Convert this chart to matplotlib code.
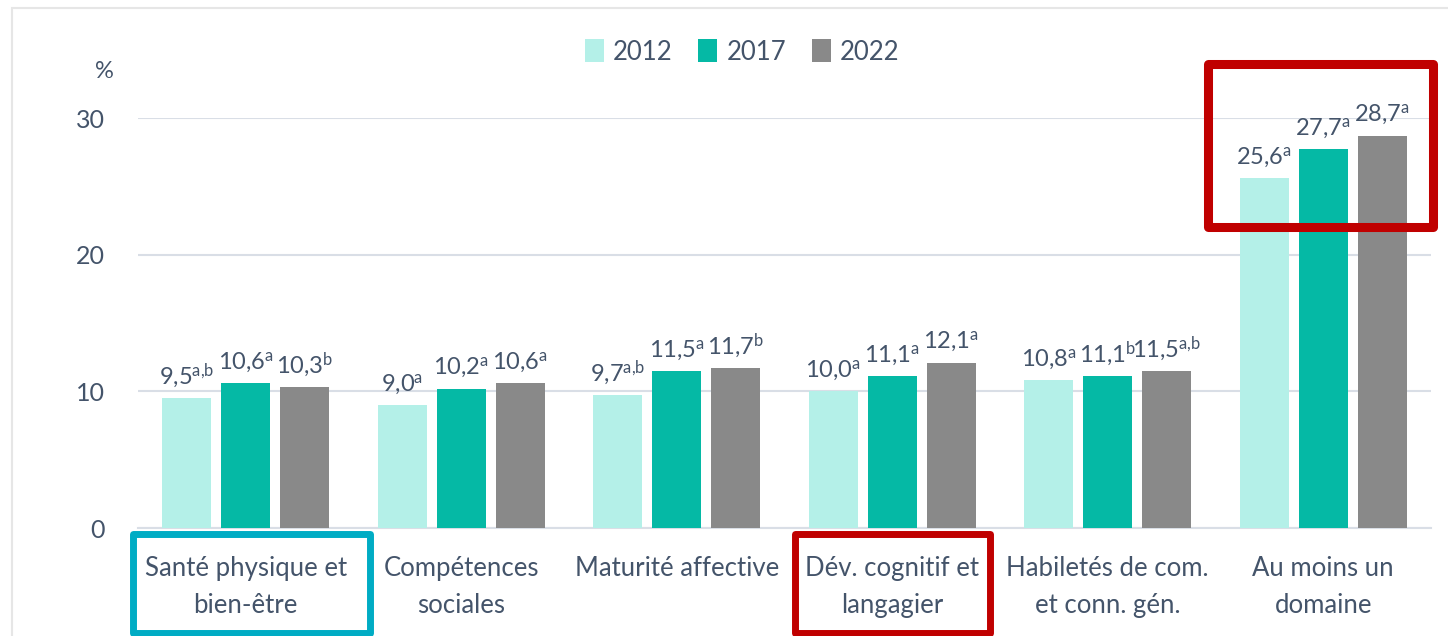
import matplotlib
matplotlib.use("Agg")
import matplotlib.pyplot as plt
from matplotlib.patches import Rectangle
import numpy as np

plt.rcParams['font.family'] = ['Lato', 'DejaVu Sans']
plt.rcParams['mathtext.fontset'] = 'custom'
plt.rcParams['mathtext.rm'] = 'Lato'
plt.rcParams['mathtext.it'] = 'Lato:italic'
plt.rcParams['mathtext.bf'] = 'Lato:bold'

# data
categories = ["Santé physique et\nbien-être", "Compétences\nsociales", "Maturité affective",
              "Dév. cognitif et\nlangagier", "Habiletés de com.\net conn. gén.", "Au moins un\ndomaine"]
years = ["2012", "2017", "2022"]
v2012 = [9.5, 9.0, 9.7, 10.0, 10.8, 25.6]
v2017 = [10.6, 10.2, 11.5, 11.1, 11.1, 27.7]
v2022 = [10.3, 10.6, 11.7, 12.1, 11.5, 28.7]
sup2012 = ["a,b", "a", "a,b", "a", "a", "a"]
sup2017 = ["a", "a", "a", "a", "b", "a"]
sup2022 = ["b", "a", "b", "a", "a,b", "a"]
yticks = [0, 10, 20, 30]

colors = ["#B4F0E8", "#05B9A5", "#898989"]
txt = "#44546A"
W, H = 1448, 636

fig = plt.figure(figsize=(W / 100, H / 100), dpi=100)
ax = fig.add_axes([138 / W, 1 - 528 / H, (1431 - 138) / W, (528 - 118) / H])

x = np.arange(len(categories))
width = 0.227
step = 0.274
series = [(v2012, sup2012), (v2017, sup2017), (v2022, sup2022)]
for k, (vals, sups) in enumerate(series):
    pos = x + (k - 1) * step
    ax.bar(pos, vals, width, color=colors[k], label=years[k], zorder=3)
    for px, v, s in zip(pos, vals, sups):
        s = s.replace(",", "{,}")
        lab = ("%.1f" % v).replace(".", ",") + r"$^{\mathrm{" + s + "}}$"
        ax.annotate(lab, (px, v), xytext=(0, 6), textcoords="offset points",
                    ha="center", va="bottom", fontsize=17, color=txt)

ax.set_xlim(-0.5, 5.5)
ax.set_ylim(0, 30)
ax.set_yticks(yticks)
ax.set_yticklabels([str(t) for t in yticks])
ax.yaxis.grid(True, color="#D9DEE6", lw=1.5, zorder=0)
ax.set_axisbelow(True)
ax.tick_params(axis="y", length=0, pad=24, labelsize=18, labelcolor=txt)
ax.set_xticks(x)
ax.set_xticklabels(categories, linespacing=1.6)
ax.tick_params(axis="x", length=0, pad=20, labelsize=18.5, labelcolor=txt)
for s in ["top", "right", "left"]:
    ax.spines[s].set_visible(False)
ax.spines["bottom"].set_color("#D9DEE6")
ax.spines["bottom"].set_linewidth(1.5)

fig.text(104 / W, 1 - 72 / H, "%", ha="center", va="center", fontsize=17, color=txt)

fig.legend(loc="center", bbox_to_anchor=(742 / W, 1 - 52 / H), ncol=3, frameon=False,
           fontsize=18.5, labelcolor=txt, handlelength=0.75, handleheight=1.0,
           handletextpad=0.35, columnspacing=1.0)

# outer frame
fig.patches.append(Rectangle((12 / W, -0.1), 1.2, 1.1 - 8 / H, transform=fig.transFigure,
                             fill=False, edgecolor="#E6E6E6", lw=1.5))


def box(x0, x1, y0, y1, color, lw):
    fig.patches.append(Rectangle((x0 / W, 1 - y1 / H), (x1 - x0) / W, (y1 - y0) / H,
                                 transform=fig.transFigure, fill=False, edgecolor=color,
                                 lw=lw, joinstyle="round", zorder=10))


box(132.5, 369.5, 533.5, 632.5, "#00ACC4", 5)
box(794.5, 989.5, 533.5, 632.5, "#C00000", 5)
box(1207.5, 1432.5, 64.5, 226.5, "#C00000", 6.5)

fig.savefig("out.png", dpi=100)
